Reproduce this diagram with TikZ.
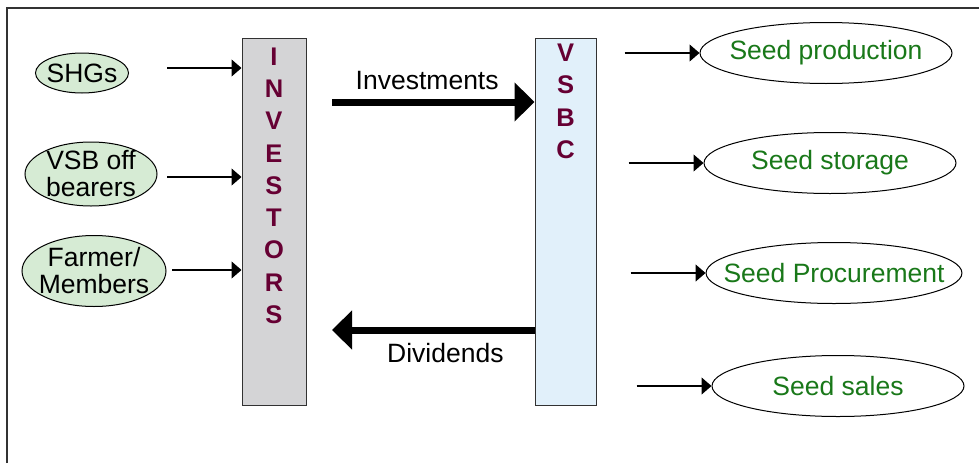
\documentclass[tikz,border=0pt]{standalone}
\usepackage{fontspec}
\setmainfont{Liberation Sans}
\usetikzlibrary{arrows.meta,positioning,shapes.geometric}

\definecolor{ovalfill}{RGB}{214,235,212}
\definecolor{bargray}{RGB}{212,212,214}
\definecolor{barblue}{RGB}{225,240,250}
\definecolor{bordergray}{RGB}{50,50,50}
\definecolor{maroon}{RGB}{102,0,51}
\definecolor{seedgreen}{RGB}{25,120,25}

\begin{document}
\begin{tikzpicture}[x=1pt,y=-1pt,->,>={Triangle[length=10pt,width=17pt]},
    line width=1.2pt,node distance=110pt,
    leftoval/.style={ellipse,draw,fill=ovalfill,line width=1pt,inner xsep=-10pt,
      inner ysep=-6pt,align=center,font=\fontsize{26.5}{27}\selectfont},
    rightoval/.style={ellipse,draw,line width=1pt,inner xsep=-20pt,inner ysep=0pt,
      minimum width=252pt,minimum height=61pt,text=seedgreen,
      font=\fontsize{26.5}{27}\selectfont},
    bar/.style={rectangle,draw=bordergray,line width=1pt,minimum width=#1,
      minimum height=367pt},
    letters/.style={align=center,inner sep=0pt,text=maroon,
      font=\fontsize{25.5}{32.3}\selectfont\bfseries},
    flow/.style={line width=7pt,-{Triangle[length=20pt,width=38pt]}},
    flowlabel/.style={inner sep=0pt,font=\fontsize{26.5}{27}\selectfont}]

  \useasboundingbox (0,0) rectangle (979,463);
  \draw[-,line width=2pt,bordergray] (7,463) -- (7,8) -- (979,8);

  % The two bars
  \node[bar=64pt,fill=bargray] (investors) at (274,222) {};
  \node[bar=61pt,fill=barblue] (vsbc) at (565.5,221.5) {};
  \node[letters,below=9pt of investors.north] (invname) {I\\N\\V\\E\\S\\T\\O\\R\\S};
  \node[letters,below=6pt of vsbc.north] (vsbcname) {V\\S\\B\\C};

  % Investor groups
  \node[leftoval,minimum width=93pt,minimum height=40pt] (shg) at (82,73) {SHGs};
  \node[leftoval,minimum width=132pt,minimum height=64pt] (vsb) at (91,174) {VSB off\\bearers};
  \node[leftoval,minimum width=144pt,minimum height=71pt] (farmer) at (94,271) {Farmer/\\Members};

  % Activities of VSBC
  \node[rightoval] (prod)                                        at (826,53) {Seed production};
  \node[rightoval] (store)   [below of=prod,xshift=4pt]             {Seed storage};
  \node[rightoval] (procure) [below of=store,xshift=4pt]            {Seed Procurement};
  \node[rightoval] (sales)   [below of=procure,xshift=4pt,yshift=-3pt] {Seed sales};

  % Groups into investors
  \coordinate (shgtail) at (167,68);
  \coordinate (vsbtail) at (167,177);
  \coordinate (farmertail) at (172,270);
  \path (shgtail) edge (shgtail -| investors.west);
  \path (vsbtail) edge (vsbtail -| investors.west);
  \path (farmertail) edge (farmertail -| investors.west);

  % Money flows
  \coordinate (investstart) at (332,102);
  \coordinate (divend) at (332,330);
  \path (investstart) edge [flow] node[flowlabel,above=9pt,pos=0.47] {Investments} (investstart -| vsbc.west);
  \path (divend -| vsbc.west) edge [flow] node[flowlabel,below=10pt,pos=0.44] {Dividends} (divend);

  % VSBC into activities
  \coordinate (prodtail) at ([xshift=-75pt]prod.west);
  \coordinate (storetail) at ([xshift=-75pt]store.west);
  \coordinate (procuretail) at ([xshift=-75pt]procure.west);
  \coordinate (salestail) at ([xshift=-75pt]sales.west);
  \path (prodtail) edge (prod.west);
  \path (storetail) edge (store.west);
  \path (procuretail) edge (procure.west);
  \path (salestail) edge (sales.west);

\end{tikzpicture}
\end{document}
